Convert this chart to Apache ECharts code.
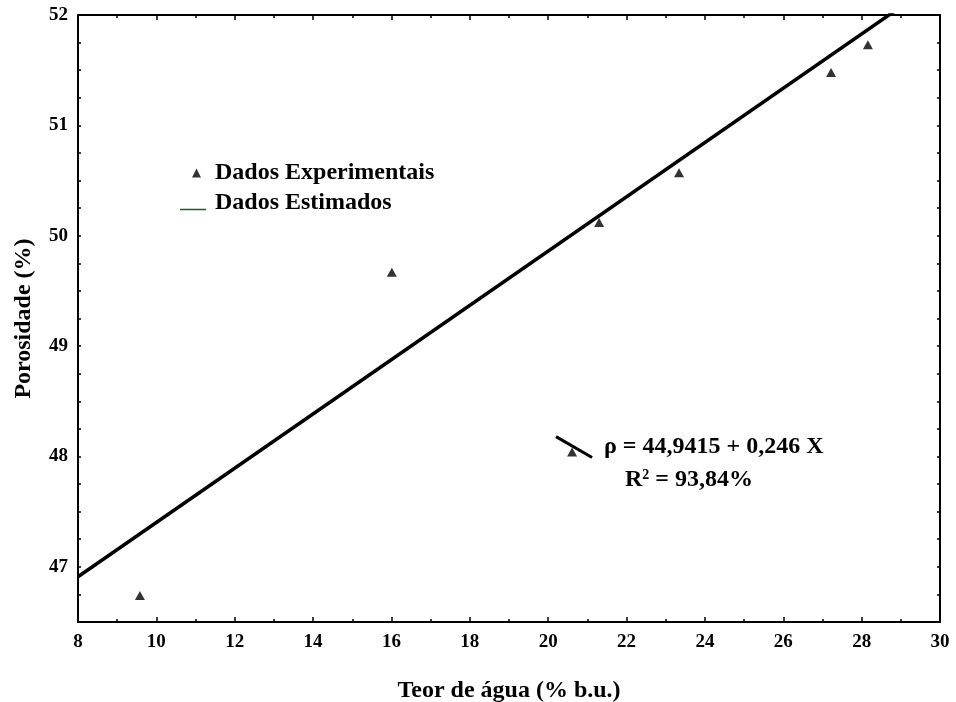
<!DOCTYPE html>
<html>
<head>
<meta charset="utf-8">
<script src="https://cdn.jsdelivr.net/npm/echarts@6/dist/echarts.min.js"></script>
<style>html,body{margin:0;padding:0;background:#fff}#c{width:956px;height:702px}</style>
</head>
<body>
<div id="c"></div>
<script>
// Experimental data (Teor de água, Porosidade)
const expX = [9.58, 16.01, 21.30, 23.34, 27.22, 28.16];
const expY = [46.74, 49.67, 50.12, 50.57, 51.48, 51.73];
// Estimated line endpoints (ρ = 44,9415 + 0,246 X)
const fitX = [8, 30];
const fitY = [46.91, 52.32];
// Annotation arrow and marker
const arrowX = [20.2, 21.12];
const arrowY = [48.18, 47.99];
const arrowMarkX = [20.61];
const arrowMarkY = [48.04];
const xTicks = [8, 10, 12, 14, 16, 18, 20, 22, 24, 26, 28, 30];
const yTicks = [47, 48, 49, 50, 51, 52];

const FONT = '"Liberation Serif", "Times New Roman", serif';
const zip = (a, b) => a.map((v, i) => [v, b[i]]);

const chart = echarts.init(document.getElementById('c'), null, {renderer: 'canvas'});
const axisLine = {show: true, lineStyle: {color: '#000', width: 2}};
const tick = (len) => ({show: true, inside: true, length: len, lineStyle: {color: '#000', width: 1.5}});
const xCommon = {
  type: 'value', min: xTicks[0], max: xTicks[xTicks.length - 1], interval: 2,
  axisLine: axisLine, axisTick: tick(5), splitLine: {show: false},
  minorTick: {show: true, splitNumber: 2, length: 3, lineStyle: {color: '#000', width: 1.5}}
};
const yCommon = {
  type: 'value', min: 46.5, max: 52, interval: 0.25,
  axisLine: axisLine, axisTick: tick(3), splitLine: {show: false}
};
chart.setOption({
  animation: false,
  backgroundColor: '#fff',
  grid: {left: 78, right: 16, top: 15, bottom: 80, containLabel: false, outerBoundsMode: 'none'},
  xAxis: [
    Object.assign({}, xCommon, {
      position: 'bottom',
      axisLabel: {color: '#000', fontFamily: FONT, fontWeight: 'bold', fontSize: 19, margin: 11},
      name: 'Teor de água (% b.u.)', nameLocation: 'middle', nameGap: 57,
      nameTextStyle: {color: '#000', fontFamily: FONT, fontWeight: 'bold', fontSize: 24}
    }),
    Object.assign({}, xCommon, {position: 'top', axisLabel: {show: false}})
  ],
  yAxis: [
    Object.assign({}, yCommon, {
      position: 'left',
      axisLabel: {color: '#000', fontFamily: FONT, fontWeight: 'bold', fontSize: 19, margin: 10,
        showMinLabel: true, showMaxLabel: true,
        formatter: v => (yTicks.indexOf(v) >= 0 ? String(v) : '')},
      name: 'Porosidade (%)', nameLocation: 'middle', nameGap: 42, nameRotate: 90,
      nameTextStyle: {color: '#000', fontFamily: FONT, fontWeight: 'bold', fontSize: 24}
    }),
    Object.assign({}, yCommon, {position: 'right', axisLabel: {show: false}})
  ],
  legend: [
    {
      orient: 'vertical', left: 187, top: 156, itemWidth: 9, itemHeight: 9,
      data: [{name: 'Dados Experimentais', icon: 'triangle'}],
      textStyle: {color: '#000', fontFamily: FONT, fontWeight: 'bold', fontSize: 24, padding: [0, 0, 0, 9]}
    },
    {
      orient: 'vertical', left: 175, top: 186, itemWidth: 26, itemHeight: 14.5,
      data: [{name: 'Dados Estimados',
        icon: 'path://M0,0L26,0L26,0.01L0,0.01ZM0,13L26,13L26,14.5L0,14.5Z',
        itemStyle: {color: '#1b5e20'}}],
      textStyle: {color: '#000', fontFamily: FONT, fontWeight: 'bold', fontSize: 24, padding: [0, 0, 0, 4]}
    }
  ],
  series: [
    {
      name: 'Dados Estimados', type: 'line', data: zip(fitX, fitY), showSymbol: false, symbol: 'none',
      clip: true, lineStyle: {color: '#000', width: 3.5}, itemStyle: {color: '#000'}, z: 3
    },
    {
      name: 'Dados Experimentais', type: 'scatter', data: zip(expX, expY),
      symbol: 'triangle', symbolSize: [10, 9], itemStyle: {color: '#000'}, z: 4
    },
    {
      name: 'arrow', type: 'line', data: zip(arrowX, arrowY), symbol: 'none',
      lineStyle: {color: '#000', width: 3}, z: 3
    },
    {
      name: 'arrowMark', type: 'scatter', data: zip(arrowMarkX, arrowMarkY),
      symbol: 'triangle', symbolSize: [10, 9], itemStyle: {color: '#000'}, z: 4
    }
  ],
  graphic: [
    {
      type: 'text', left: 604, top: 435,
      style: {text: 'ρ = 44,9415 + 0,246 X', fill: '#000', font: 'bold 24px ' + FONT}
    },
    {
      type: 'text', left: 625, top: 468,
      style: {
        text: '{b|R}{s|2}{b| = 93,84%}',
        rich: {
          b: {fill: '#000', font: 'bold 24px ' + FONT, verticalAlign: 'bottom'},
          s: {fill: '#000', font: 'bold 14px ' + FONT, verticalAlign: 'top', padding: [0, 0, 10, 0]}
        }
      }
    }
  ]
});
</script>
</body>
</html>
